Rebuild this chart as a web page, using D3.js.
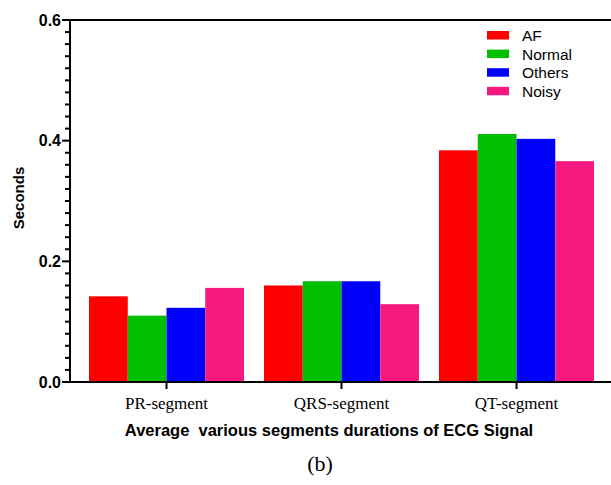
<!DOCTYPE html>
<html>
<head>
<meta charset="utf-8">
<script src="https://cdn.jsdelivr.net/npm/d3@7"></script>
<style>
  html, body { margin: 0; padding: 0; background: #fff; }
  svg { display: block; }
</style>
</head>
<body>
<svg id="chart" width="611" height="485"></svg>
<script>
// Average ECG segment durations per rhythm class
const segments = ["PR-segment", "QRS-segment", "QT-segment"];
const classes = ["AF", "Normal", "Others", "Noisy"];
const afValues = [0.142, 0.160, 0.384];
const normalValues = [0.110, 0.167, 0.411];
const othersValues = [0.123, 0.167, 0.403];
const noisyValues = [0.156, 0.129, 0.366];
const yTickValues = [0.0, 0.2, 0.4, 0.6];
const classColors = ["#ff0000", "#00bf00", "#0000ff", "#f7197f"];

const seriesByClass = [afValues, normalValues, othersValues, noisyValues];
const rows = segments.map((seg, i) => ({
  segment: seg,
  values: classes.map((c, j) => ({ cls: c, value: seriesByClass[j][i] }))
}));

const svg = d3.select("#chart");
const yTop = 20, yBottom = 382, xLeft = 70, xRight = 611;
const lw = 2; // axis stroke thickness

const y = d3.scaleLinear().domain([0, 0.6]).range([yBottom, yTop]);
const x0 = d3.scaleBand().domain(segments).range([69, 614]).paddingInner(0.1143).paddingOuter(0.1143);
const x1 = d3.scaleBand().domain(classes).range([0, x0.bandwidth()]);
const color = d3.scaleOrdinal().domain(classes).range(classColors);

// bars
svg.append("g").selectAll("g")
  .data(rows)
  .join("g")
  .attr("transform", d => `translate(${x0(d.segment)},0)`)
  .selectAll("rect")
  .data(d => d.values)
  .join("rect")
  .attr("x", d => x1(d.cls))
  .attr("y", d => y(d.value))
  .attr("width", x1.bandwidth())
  .attr("height", d => yBottom - y(d.value))
  .attr("fill", d => color(d.cls));

// axis strokes
const axes = svg.append("g");

// top frame
axes.append("rect")
  .attr("x", xLeft - lw / 2).attr("y", yTop - lw / 2)
  .attr("width", xRight - xLeft + lw).attr("height", lw)
  .attr("fill", "#000");

// y axis line
axes.append("rect")
  .attr("x", xLeft - lw / 2).attr("y", yTop - lw / 2)
  .attr("width", lw).attr("height", yBottom - yTop + lw)
  .attr("fill", "#000");

// y ticks: minor every 0.02, longer at the labelled values
const minorTicks = d3.range(0, 31).map(i => i * 0.02);
const isMajor = v => yTickValues.some(t => Math.abs(t - v) < 1e-9);
const yTickG = svg.append("g");
for (const v of minorTicks) {
  const len = isMajor(v) ? 8 : 5;
  yTickG.append("rect")
    .attr("x", xLeft - len)
    .attr("y", y(v) - lw / 2)
    .attr("width", len)
    .attr("height", lw)
    .attr("fill", "#000");
}

svg.append("g").selectAll("text")
  .data(yTickValues)
  .join("text")
  .attr("x", xLeft - 9)
  .attr("y", d => y(d))
  .attr("dy", "0.35em")
  .attr("text-anchor", "end")
  .attr("font-family", "Liberation Sans, Arial, sans-serif")
  .attr("font-weight", "bold")
  .attr("font-size", 16)
  .attr("fill", "#000")
  .text(d3.format(".1f"));

// x axis line and category ticks
axes.append("rect")
  .attr("x", 62).attr("y", yBottom - lw / 2)
  .attr("width", xRight - 62).attr("height", lw)
  .attr("fill", "#000");
const xTickG = svg.append("g");
for (const s of segments) {
  xTickG.append("rect")
    .attr("x", x0(s) + x0.bandwidth() / 2 - lw / 2)
    .attr("y", yBottom)
    .attr("width", lw)
    .attr("height", 7)
    .attr("fill", "#000");
}

svg.append("g").selectAll("text")
  .data(segments)
  .join("text")
  .attr("x", d => x0(d) + x0.bandwidth() / 2)
  .attr("y", yBottom + 27)
  .attr("text-anchor", "middle")
  .attr("font-family", "Liberation Serif, Times New Roman, serif")
  .attr("font-size", 17)
  .attr("fill", "#000")
  .text(d => d);

// axis titles
svg.append("text")
  .attr("transform", `translate(24,198) rotate(-90)`)
  .attr("text-anchor", "middle")
  .attr("font-family", "Liberation Sans, Arial, sans-serif")
  .attr("font-weight", "bold")
  .attr("font-size", 15)
  .text("Seconds");

svg.append("text")
  .attr("x", 329).attr("y", 436)
  .attr("text-anchor", "middle")
  .attr("font-family", "Liberation Sans, Arial, sans-serif")
  .attr("font-weight", "bold")
  .attr("font-size", 16.5)
  .style("white-space", "pre")
  .text("Average  various segments durations of ECG Signal");

svg.append("text")
  .attr("x", 320).attr("y", 471)
  .attr("text-anchor", "middle")
  .attr("font-family", "Liberation Serif, Times New Roman, serif")
  .attr("font-size", 22)
  .text("(b)");

// legend
const legend = svg.append("g").attr("transform", "translate(487,31)");
const item = legend.selectAll("g")
  .data(classes)
  .join("g")
  .attr("transform", (d, i) => `translate(0,${i * 18.6})`);
item.append("rect")
  .attr("width", 22).attr("height", 8.5)
  .attr("fill", d => color(d));
item.append("text")
  .attr("x", 35).attr("y", 4.5)
  .attr("dy", "0.35em")
  .attr("font-family", "Liberation Sans, Arial, sans-serif")
  .attr("font-size", 15.5)
  .text(d => d);
</script>
</body>
</html>
